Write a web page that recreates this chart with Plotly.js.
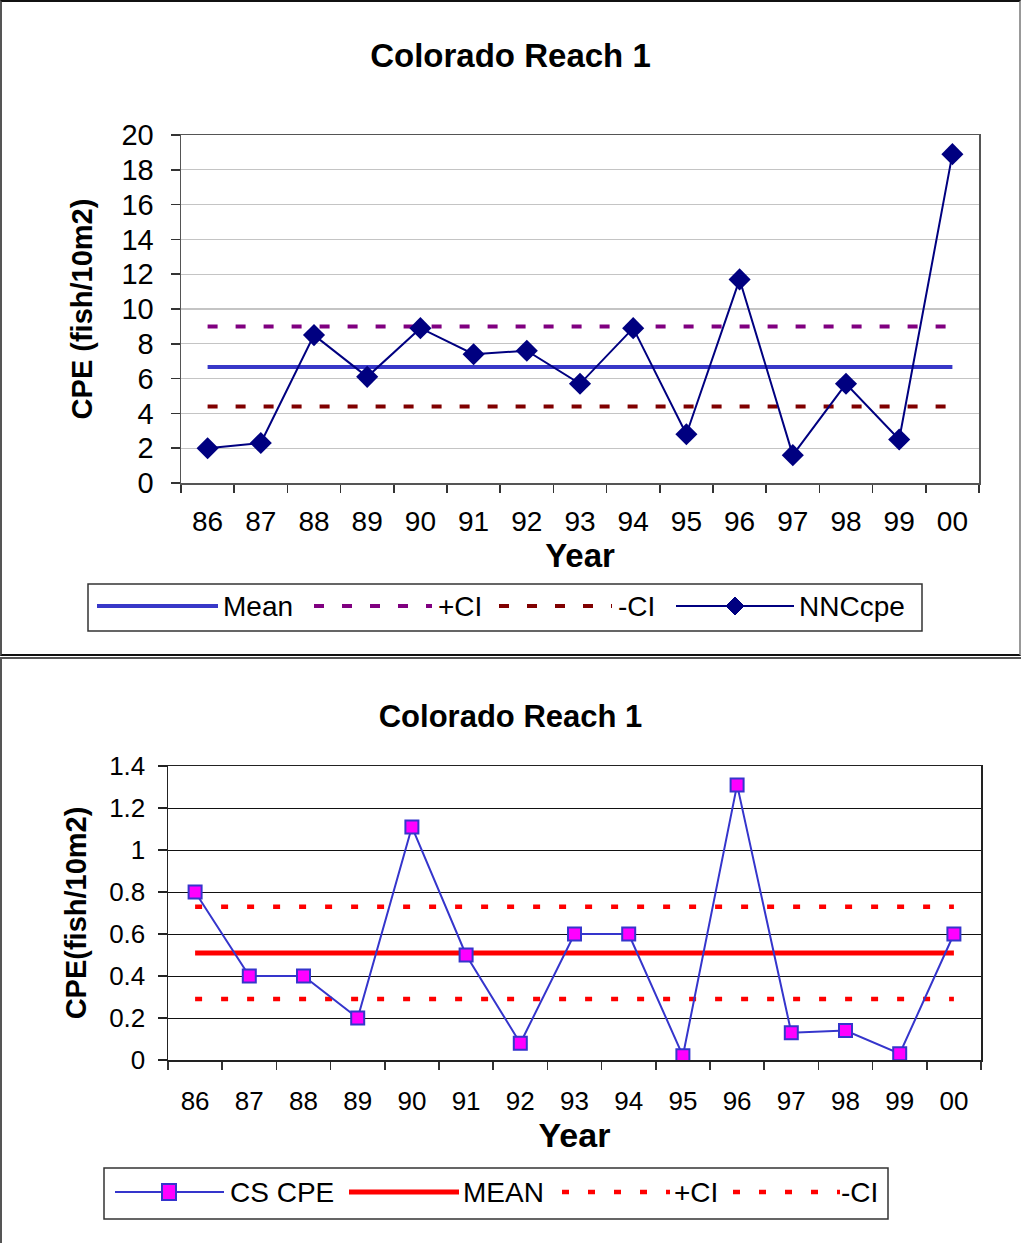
<!DOCTYPE html>
<html>
<head>
<meta charset="utf-8">
<script src="https://cdn.plot.ly/plotly-3.0.1.min.js"></script>
<style>
  html, body { margin: 0; padding: 0; background: #fff; }
  #page { position: relative; width: 1021px; height: 1243px; overflow: hidden; }
  #nncChart { position: absolute; left: 0; top: 0; width: 1021px; height: 656px; }
  #csChart { position: absolute; left: 0; top: 658px; width: 1021px; height: 585px; }
  .frame { position: absolute; box-sizing: border-box; pointer-events: none; }
</style>
</head>
<body>
<div id="page">
  <div id="nncChart"></div>
  <div id="csChart"></div>
  <div class="frame" style="left:0;top:0;width:1021px;height:656px;border:2px solid #111;border-left-color:#555;border-right-color:#999;"></div>
  <div class="frame" style="left:0;top:657px;width:1030px;height:600px;border-top:2px solid #555;border-left:2px solid #555;"></div>
</div>
<script>
// Survey years (two-digit labels)
const years = ['86', '87', '88', '89', '90', '91', '92', '93', '94', '95', '96', '97', '98', '99', '00'];

// Upper chart: NNC catch per effort (fish/10m2) with mean and confidence limits
const nncCpe = [2.0, 2.3, 8.5, 6.1, 8.9, 7.4, 7.6, 5.7, 8.9, 2.8, 11.7, 1.6, 5.7, 2.5, 18.9];
const nncMean = 6.67;
const nncUpperCI = 9.0;
const nncLowerCI = 4.4;

// Lower chart: CS catch per effort (fish/10m2) with mean and confidence limits
const csCpe = [0.80, 0.40, 0.40, 0.20, 1.11, 0.50, 0.08, 0.60, 0.60, 0.02, 1.31, 0.13, 0.14, 0.03, 0.60];
const csMean = 0.51;
const csUpperCI = 0.73;
const csLowerCI = 0.29;

const FONT = 'Liberation Sans, Arial, Helvetica, sans-serif';
const constant = v => years.map(() => v);

// Convert pixel positions inside a chart div to paper coordinates
function pxMapper(W, H, m) {
  const w = W - m.l - m.r, h = H - m.t - m.b;
  return { x: px => (px - m.l) / w, y: py => (H - m.b - py) / h };
}
function legLine(map, x0, x1, y, line) {
  return { type: 'line', xref: 'paper', yref: 'paper', layer: 'above',
           x0: map.x(x0), x1: map.x(x1), y0: map.y(y), y1: map.y(y), line: line };
}
function legBox(map, x0, y0, x1, y1) {
  return { type: 'rect', xref: 'paper', yref: 'paper', layer: 'above',
           x0: map.x(x0), x1: map.x(x1), y0: map.y(y0), y1: map.y(y1),
           line: { color: '#333', width: 1.5 }, fillcolor: 'rgba(0,0,0,0)' };
}
function legText(map, x, y, text, size) {
  return { xref: 'paper', yref: 'paper', x: map.x(x), y: map.y(y), xanchor: 'left', yanchor: 'middle',
           text: text, showarrow: false, font: { family: FONT, size: size, color: '#000' } };
}
function diamondPath(map, cx, cy, r) {
  return 'M' + map.x(cx - r) + ',' + map.y(cy) + ' L' + map.x(cx) + ',' + map.y(cy - r) +
         ' L' + map.x(cx + r) + ',' + map.y(cy) + ' L' + map.x(cx) + ',' + map.y(cy + r) + ' Z';
}
function rectPath(map, cx, cy, hw, hh) {
  return 'M' + map.x(cx - hw) + ',' + map.y(cy - hh) + ' L' + map.x(cx + hw) + ',' + map.y(cy - hh) +
         ' L' + map.x(cx + hw) + ',' + map.y(cy + hh) + ' L' + map.x(cx - hw) + ',' + map.y(cy + hh) + ' Z';
}

function categoryAxis(opts) {
  return Object.assign({
    type: 'category', range: [-0.5, years.length - 0.5], tickson: 'boundaries',
    ticks: 'outside', ticklen: 8, tickwidth: 1.5, tickcolor: '#333',
    showgrid: false, showline: true, linewidth: 1.5, mirror: true, zeroline: false,
    fixedrange: true
  }, opts);
}

// ---------- Upper chart ----------
(function () {
  const W = 1021, H = 656, m = { l: 181, r: 42, t: 135, b: 173 };
  const map = pxMapper(W, H, m);
  const meanColor = '#3838C8', upColor = '#800080', loColor = '#800000', cpeColor = '#000080';
  const dash = '10px,18px';

  const traces = [
    { x: years, y: constant(nncMean), name: 'Mean', mode: 'lines', line: { color: meanColor, width: 4 }, showlegend: false },
    { x: years, y: constant(nncUpperCI), name: '+CI', mode: 'lines', line: { color: upColor, width: 4, dash: dash }, showlegend: false },
    { x: years, y: constant(nncLowerCI), name: '-CI', mode: 'lines', line: { color: loColor, width: 4, dash: dash }, showlegend: false },
    { x: years, y: nncCpe, name: 'NNCcpe', mode: 'lines+markers', line: { color: cpeColor, width: 2 },
      marker: { symbol: 'diamond', size: 17, color: cpeColor }, showlegend: false }
  ];

  const ly = 606;
  const shapes = [
    legBox(map, 88, 584, 922, 631),
    legLine(map, 97, 218, ly, { color: meanColor, width: 4 }),
    legLine(map, 314, 432, ly, { color: upColor, width: 4, dash: dash }),
    legLine(map, 499, 612, ly, { color: loColor, width: 4, dash: dash }),
    legLine(map, 676, 794, ly, { color: cpeColor, width: 2 }),
    { type: 'path', xref: 'paper', yref: 'paper', layer: 'above', path: diamondPath(map, 735, ly, 9),
      fillcolor: cpeColor, line: { color: cpeColor, width: 1 } }
  ];
  const annotations = [
    legText(map, 221, ly, 'Mean', 28),
    legText(map, 436, ly, '+CI', 28),
    legText(map, 616, ly, '-CI', 28),
    legText(map, 797, ly, 'NNCcpe', 28)
  ];

  const layout = {
    width: W, height: H, margin: m, paper_bgcolor: '#fff', plot_bgcolor: '#fff',
    font: { family: FONT, color: '#000' }, showlegend: false,
    title: { text: '<b>Colorado Reach 1</b>', font: { family: FONT, size: 33, color: '#000' },
             xref: 'container', x: 0.5, xanchor: 'center', yref: 'container', y: 1 - 55 / H, yanchor: 'middle' },
    xaxis: categoryAxis({ linecolor: '#555', tickfont: { family: FONT, size: 28 }, ticklabelstandoff: 13,
      title: { text: '<b>Year</b>', font: { family: FONT, size: 33 }, standoff: 0 } }),
    yaxis: { range: [0, 20], dtick: 2, ticks: 'outside', ticklen: 9, tickwidth: 1.5, tickcolor: '#333',
      showline: true, linecolor: '#555', linewidth: 1.5, mirror: true, zeroline: false,
      showgrid: true, gridcolor: '#C4C4C4', gridwidth: 1.2,
      tickfont: { family: FONT, size: 29 }, ticklabelstandoff: 11, fixedrange: true,
      title: { text: '<b>CPE (fish/10m2)</b>', font: { family: FONT, size: 29 }, standoff: 20 } },
    shapes: shapes, annotations: annotations
  };
  Plotly.newPlot('nncChart', traces, layout, { staticPlot: true, displayModeBar: false });
})();

// ---------- Lower chart ----------
(function () {
  const W = 1021, H = 585, m = { l: 168, r: 40, t: 108, b: 183 };
  const map = pxMapper(W, H, m);
  const lineColor = '#3535CC', markColor = '#FF00FF', red = '#FF0000';
  const dots = '7px,19px';

  const traces = [
    { x: years, y: constant(csMean), name: 'MEAN', mode: 'lines', line: { color: red, width: 5 }, showlegend: false },
    { x: years, y: constant(csUpperCI), name: '+CI', mode: 'lines', line: { color: red, width: 4.5, dash: dots }, showlegend: false },
    { x: years, y: constant(csLowerCI), name: '-CI', mode: 'lines', line: { color: red, width: 4.5, dash: dots }, showlegend: false },
    { x: years, y: csCpe, name: 'CS CPE', mode: 'lines+markers', line: { color: lineColor, width: 2 },
      marker: { symbol: 'square', size: 13, color: markColor, line: { color: lineColor, width: 2 } }, showlegend: false }
  ];

  const ly = 534;
  const shapes = [
    legBox(map, 104, 510, 888, 561),
    legLine(map, 115, 224, ly, { color: lineColor, width: 2 }),
    { type: 'path', xref: 'paper', yref: 'paper', layer: 'above', path: rectPath(map, 169, ly, 7, 8),
      fillcolor: markColor, line: { color: lineColor, width: 2 } },
    legLine(map, 349, 459, ly, { color: red, width: 5 }),
    legLine(map, 562, 670, ly, { color: red, width: 4.5, dash: dots }),
    legLine(map, 733, 840, ly, { color: red, width: 4.5, dash: dots })
  ];
  const annotations = [
    legText(map, 228, ly, 'CS CPE', 28),
    legText(map, 461, ly, 'MEAN', 28),
    legText(map, 672, ly, '+CI', 28),
    legText(map, 839, ly, '-CI', 28)
  ];

  const layout = {
    width: W, height: H, margin: m, paper_bgcolor: '#fff', plot_bgcolor: '#fff',
    font: { family: FONT, color: '#000' }, showlegend: false,
    title: { text: '<b>Colorado Reach 1</b>', font: { family: FONT, size: 31, color: '#000' },
             xref: 'container', x: 0.5, xanchor: 'center', yref: 'container', y: 1 - 58 / H, yanchor: 'middle' },
    xaxis: categoryAxis({ linecolor: '#222', tickfont: { family: FONT, size: 26 }, ticklabelstandoff: 17,
      title: { text: '<b>Year</b>', font: { family: FONT, size: 34 }, standoff: 0 } }),
    yaxis: { range: [0, 1.4], dtick: 0.2, ticks: 'outside', ticklen: 9, tickwidth: 1.5, tickcolor: '#222',
      showline: true, linecolor: '#222', linewidth: 1.5, mirror: true, zeroline: false,
      showgrid: true, gridcolor: '#111', gridwidth: 1,
      tickfont: { family: FONT, size: 26 }, ticklabelstandoff: 7, fixedrange: true,
      title: { text: '<b>CPE(fish/10m2)</b>', font: { family: FONT, size: 29 }, standoff: 14 } },
    shapes: shapes, annotations: annotations
  };
  Plotly.newPlot('csChart', traces, layout, { staticPlot: true, displayModeBar: false });
})();
</script>
</body>
</html>
